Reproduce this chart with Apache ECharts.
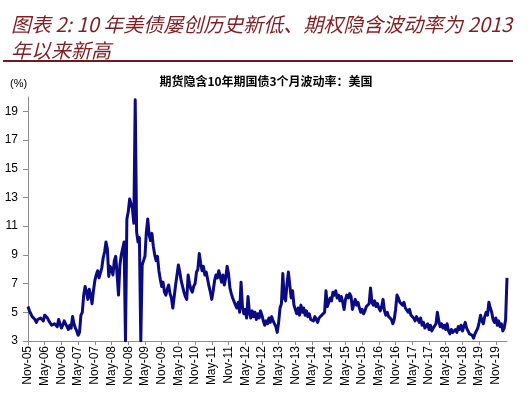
<!DOCTYPE html>
<html>
<head>
<meta charset="utf-8">
<script src="https://cdn.jsdelivr.net/npm/echarts@6/dist/echarts.min.js"></script>
<style>
html,body{margin:0;padding:0;background:#fff;}
#c{width:532px;height:396px;}
</style>
</head>
<body>
<div id="c"></div>
<script>
// Half-monthly values (Nov-05 .. Mar-20), %
var v2005 = [5.4,5.1, 4.9,4.7];
var v2006 = [4.7,4.5, 4.3,4.5, 4.4,4.6, 4.5,4.4, 4.8,4.9, 4.6,4.4, 4.3,4.1, 4.0,4.2, 4.1,4.0, 4.5,4.2, 3.9,4.1, 4.4,4.3];
var v2007 = [4.0,3.8, 4.1,3.9, 4.7,4.2, 3.9,3.7, 3.4,3.6, 4.8,5.0, 6.2,6.8, 6.4,5.9, 6.6,6.2, 5.6,6.5, 7.2,7.6, 7.9,7.4];
var v2008 = [7.3,8.1, 8.8,9.2, 9.9,9.4, 7.5,8.2, 8.0,7.6, 8.6,8.9, 7.6,6.2, 8.3,9.0, 8.9,9.9, 3.0,11.5, 12.0,12.9, 12.8,12.2];
var v2009 = [11.2,19.8, 10.6,9.9, 10.2,3.0, 8.3,8.6, 8.9,10.6, 11.5,10.4, 10.0,10.5, 9.6,9.0, 8.6,8.9, 7.9,7.3, 6.8,7.1, 6.4,6.2];
var v2010 = [6.6,6.9, 6.3,6.0, 5.3,6.1, 6.9,7.6, 8.3,7.8, 7.2,6.8, 6.4,6.1, 5.9,7.6, 7.0,6.6, 6.4,6.8, 7.0,7.8, 8.0,9.1];
var v2011 = [8.4,7.9, 8.2,7.6, 7.8,7.3, 6.8,6.4, 5.9,6.5, 7.2,7.6, 7.4,7.9, 7.5,7.1, 7.6,6.9, 7.4,8.2, 7.7,6.7, 6.3,6.0];
var v2012 = [6.1,5.5, 5.3,5.7, 5.0,7.1, 5.4,4.9, 5.2,4.6, 6.1,5.0, 4.6,5.1, 4.7,5.0, 4.5,4.9, 4.6,5.1, 4.8,4.4, 4.1,4.4];
var v2013 = [4.2,4.6, 4.3,4.7, 4.4,4.5, 4.0,3.6, 4.3,5.3, 5.6,7.7, 6.0,5.8, 7.0,7.8, 6.9,6.0, 6.5,5.5, 5.2,4.9, 5.3,4.8];
var v2014 = [5.5,5.0, 5.3,4.8, 5.1,4.7, 4.9,4.5, 4.6,4.4, 4.7,4.5, 4.3,4.6, 4.5,4.8, 4.7,5.0, 6.5,5.4, 5.7,6.0, 5.8,6.4];
var v2015 = [6.2,6.5, 6.0,6.2, 5.8,6.1, 5.7,5.2, 5.9,6.2, 6.0,6.3, 6.1,5.2, 5.6,5.9, 5.5,5.7, 5.3,5.0, 5.2,4.9, 5.1,5.4];
var v2016 = [5.3,5.6, 6.7,5.7, 5.5,5.8, 5.4,5.6, 5.3,5.1, 5.4,5.9, 5.1,4.8, 5.0,4.7, 4.8,4.5, 4.2,4.5, 5.2,6.2, 6.0,5.7];
var v2017 = [5.8,5.5, 5.7,5.3, 5.4,5.0, 5.2,4.8, 4.9,4.6, 4.4,4.7, 4.5,4.3, 4.6,4.1, 4.3,3.9, 4.0,4.2, 3.8,4.1, 3.7,3.9];
var v2018 = [3.8,4.2, 5.0,4.4, 4.0,4.2, 3.9,4.1, 3.8,4.2, 3.7,3.5, 3.8,3.6, 3.5,3.8, 3.6,4.0, 3.8,4.1, 3.7,4.0, 4.3,3.9];
var v2019 = [3.7,3.5, 3.6,3.4, 3.2,3.5, 3.4,3.9, 4.3,4.8, 4.4,4.2, 4.7,5.0, 4.8,5.7, 5.3,5.0, 4.5,4.3, 4.6,4.1, 4.4,4.0];
var v2020 = [4.2,3.7, 3.9,4.5, 7.4];

var tickLabels = ['Nov-05','May-06','Nov-06','May-07','Nov-07','May-08','Nov-08','May-09','Nov-09','May-10',
  'Nov-10','May-11','Nov-11','May-12','Nov-12','May-13','Nov-13','May-14','Nov-14','May-15',
  'Nov-15','May-16','Nov-16','May-17','Nov-17','May-18','Nov-18','May-19','Nov-19'];
var yTicks = [3,5,7,9,11,13,15,17,19];

var values = [].concat(v2005,v2006,v2007,v2008,v2009,v2010,v2011,v2012,v2013,v2014,v2015,v2016,v2017,v2018,v2019,v2020);

// half-month category keys starting Nov 2005
var categories = [];
for (var i = 0; i < values.length; i++) {
  var mo = 10 + Math.floor(i / 2);
  var y = 2005 + Math.floor(mo / 12);
  var m = (mo % 12) + 1;
  categories.push(y + '-' + (m < 10 ? '0' + m : m) + (i % 2 === 0 ? '-01' : '-16'));
}

var chart = echarts.init(document.getElementById('c'), null, {renderer: 'canvas'});
chart.setOption({
  animation: false,
  backgroundColor: '#ffffff',
  title: {
    text: '图表 2: 10 年美债屡创历史新低、期权隐含波动率为 2013\n年以来新高',
    left: 6, top: 6,
    textStyle: {
      fontFamily: '"Noto Sans CJK SC", sans-serif',
      fontSize: 20, fontStyle: 'italic', fontWeight: 'normal',
      color: '#7d1f24', lineHeight: 26
    }
  },
  graphic: [
    { type: 'line', shape: {x1: 3, y1: 61, x2: 513, y2: 61}, style: {stroke: '#6e1a1f', lineWidth: 2} },
    { type: 'text', left: 10, top: 78, style: {text: '(%)', font: '11px "Liberation Sans", Arial, sans-serif', fill: '#000'} },
    { type: 'text', left: 'center', top: 75, style: {text: '期货隐含10年期国债3个月波动率：美国', font: 'bold 12px "Noto Sans CJK SC", sans-serif', fill: '#000'} }
  ],
  grid: { left: 28, right: 25, top: 97, bottom: 55, containLabel: false },
  xAxis: {
    type: 'category',
    data: categories,
    boundaryGap: false,
    axisLine: { lineStyle: { color: '#8c8c8c', width: 1 } },
    axisTick: { show: true, interval: 11, length: 4, lineStyle: { color: '#8c8c8c' } },
    axisLabel: {
      interval: 11, rotate: 90, margin: 5,
      fontFamily: '"Liberation Sans", Arial, sans-serif', fontSize: 12, color: '#000',
      formatter: function (val, idx) { return tickLabels[idx / 12] || ''; }
    },
    splitLine: { show: false }
  },
  yAxis: {
    type: 'value',
    min: 3, max: 20,
    axisLine: { show: true, lineStyle: { color: '#8c8c8c', width: 1 } },
    axisTick: { show: true, length: 5, customValues: yTicks, lineStyle: { color: '#8c8c8c' } },
    axisLabel: {
      customValues: yTicks, margin: 10,
      fontFamily: '"Liberation Sans", Arial, sans-serif', fontSize: 12, color: '#000'
    },
    splitLine: { show: false }
  },
  series: [{
    type: 'line',
    data: values,
    showSymbol: false,
    symbol: 'none',
    clip: true,
    lineStyle: { color: '#0a0a82', width: 3, join: 'round' }
  }]
});
</script>
</body>
</html>
